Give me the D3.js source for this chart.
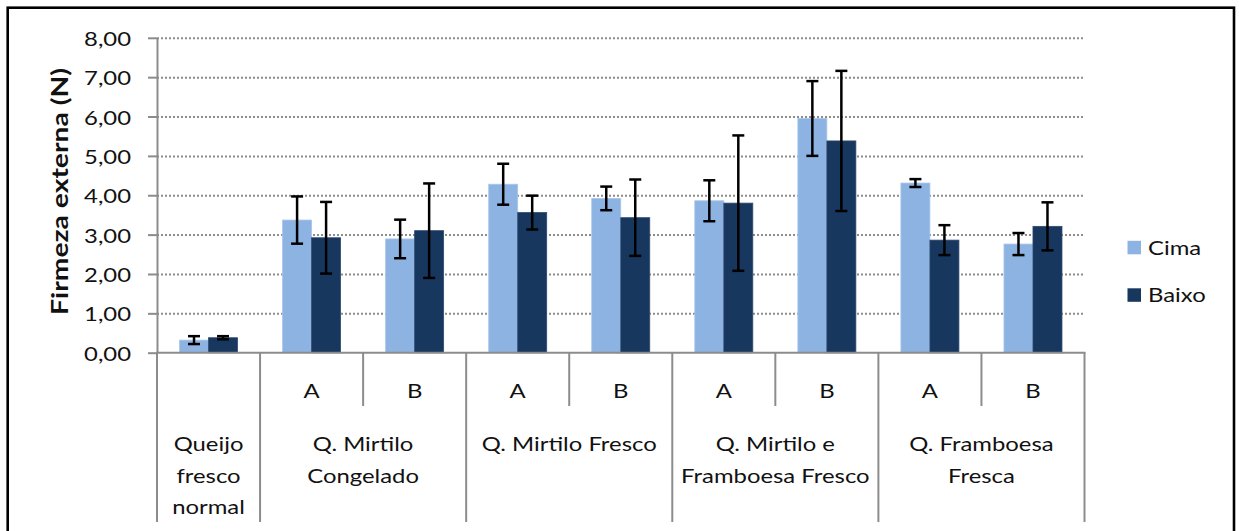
<!DOCTYPE html>
<html>
<head>
<meta charset="utf-8">
<script src="https://cdn.jsdelivr.net/npm/d3@7"></script>
<style>
  body { margin: 0; background: #fff; }
  text { font-family: Lato, "Open Sans", sans-serif; fill: #111; }
</style>
</head>
<body>
<svg id="chart" width="1239" height="531"></svg>
<script>
// categories: second row labels (A / B) and the group names below them
var subLabels = ["", "A", "B", "A", "B", "A", "B", "A", "B"];
var groupNames = [["Queijo", "fresco", "normal"], ["Q. Mirtilo", "Congelado"],
                  ["Q. Mirtilo Fresco"], ["Q. Mirtilo e", "Framboesa Fresco"],
                  ["Q. Framboesa", "Fresca"]];
var groupSizes = [1, 2, 2, 2, 2];

var seriesNames = ["Cima", "Baixo"];
var cima      = [0.32, 3.37, 2.89, 4.28, 3.92, 3.86, 5.95, 4.31, 2.76];
var cimaErr   = [0.10, 0.60, 0.49, 0.52, 0.30, 0.52, 0.95, 0.10, 0.28];
var baixo     = [0.38, 2.92, 3.10, 3.56, 3.43, 3.80, 5.38, 2.86, 3.21];
var baixoErr  = [0.04, 0.91, 1.20, 0.43, 0.97, 1.72, 1.78, 0.38, 0.61];
var yTicks = [0, 1, 2, 3, 4, 5, 6, 7, 8];

var colors = {Cima: "#8db3e2", Baixo: "#17375e"};
var sx = 1.27; // labels are drawn a bit wider than the font

var svg = d3.select("#chart");

// outer frame (bottom edge is cut off in the original)
svg.append("rect")
  .attr("x", 7.7).attr("y", 7.7)
  .attr("width", 1226.3).attr("height", 600)
  .attr("fill", "none").attr("stroke", "#000").attr("stroke-width", 2.6);

var plotL = 157, plotR = 1084.5, plotT = 37.8, plotB = 352.7;

var x = d3.scaleBand().domain(d3.range(cima.length)).range([plotL, plotR]);
var y = d3.scaleLinear().domain([0, 8]).range([plotB, plotT]);
var xs = d3.scaleBand().domain(seriesNames).range([-29, 29]);

function label(g, txt, px, py, anchor) {
  return g.append("text")
    .attr("transform", "translate(" + px + "," + py + ") scale(" + sx + ",1)")
    .attr("text-anchor", anchor || "middle")
    .style("font-size", "18.8px")
    .text(txt);
}

// dotted gridlines
svg.append("g")
  .attr("transform", "translate(" + plotL + ",0)")
  .call(d3.axisLeft(y).tickValues(yTicks.slice(1)).tickSize(-(plotR - plotL - 1)).tickFormat(""))
  .call(function(g) {
    g.select(".domain").remove();
    g.selectAll("line").attr("stroke", "#8c8c8c").attr("stroke-width", 2)
      .attr("stroke-dasharray", "2,2");
  });

// bars
var rows = cima.map(function(v, i) {
  return [{s: "Cima", i: i, v: v, e: cimaErr[i]}, {s: "Baixo", i: i, v: baixo[i], e: baixoErr[i]}];
});
var flat = [].concat.apply([], rows);

svg.append("g").selectAll("rect")
  .data(flat).enter().append("rect")
  .attr("x", function(d) { return x(d.i) + x.bandwidth() / 2 + xs(d.s); })
  .attr("y", function(d) { return y(d.v); })
  .attr("width", xs.bandwidth())
  .attr("height", function(d) { return y(0) - y(d.v); })
  .attr("fill", function(d) { return colors[d.s]; })
  .attr("stroke", function(d) { return d.s == "Cima" ? "#a9c6ea" : "#2d4a70"; })
  .attr("stroke-width", 0.8);

// error bars
var eb = svg.append("g").selectAll("g")
  .data(flat).enter().append("g")
  .attr("stroke", "#000").attr("stroke-width", 2.5);
function cx(d) { return x(d.i) + x.bandwidth() / 2 + xs(d.s) + xs.bandwidth() / 2; }
eb.append("line")
  .attr("x1", cx).attr("x2", cx)
  .attr("y1", function(d) { return y(d.v + d.e); })
  .attr("y2", function(d) { return y(d.v - d.e); });
eb.append("line")
  .attr("x1", function(d) { return cx(d) - 6; }).attr("x2", function(d) { return cx(d) + 6; })
  .attr("y1", function(d) { return y(d.v + d.e); }).attr("y2", function(d) { return y(d.v + d.e); });
eb.append("line")
  .attr("x1", function(d) { return cx(d) - 6; }).attr("x2", function(d) { return cx(d) + 6; })
  .attr("y1", function(d) { return y(d.v - d.e); }).attr("y2", function(d) { return y(d.v - d.e); });

// y axis
svg.append("g")
  .attr("transform", "translate(" + plotL + ",0)")
  .call(d3.axisLeft(y).tickValues(yTicks).tickSize(9).tickSizeOuter(0)
    .tickFormat(function(d) { return d.toFixed(2).replace(".", ","); }))
  .call(function(g) {
    g.select(".domain").attr("stroke", "#8c8c8c").attr("stroke-width", 2);
    g.selectAll("line").attr("stroke", "#8c8c8c").attr("stroke-width", 2);
    g.selectAll("text")
      .attr("x", null).attr("dy", null)
      .attr("transform", "translate(-26,7.5) scale(" + sx + ",1)")
      .style("font-size", "18.8px").style("font-family", "Lato, sans-serif")
      .attr("fill", "#111");
  });

// x axis: baseline plus multi-level separators
var xa = svg.append("g").attr("stroke", "#8c8c8c").attr("stroke-width", 2);
xa.append("line").attr("x1", plotL - 1).attr("x2", plotR + 1).attr("y1", plotB).attr("y2", plotB);

var bounds = [0];
groupSizes.forEach(function(n, k) { bounds.push(bounds[k] + n); });
bounds.forEach(function(b) {
  var px = b < cima.length ? x(b) : plotR;
  xa.append("line").attr("x1", px).attr("x2", px).attr("y1", plotB).attr("y2", 522);
});
d3.range(cima.length).forEach(function(i) {
  if (bounds.indexOf(i) < 0) {
    xa.append("line").attr("x1", x(i)).attr("x2", x(i)).attr("y1", plotB).attr("y2", 406);
  }
});

var lab = svg.append("g");
subLabels.forEach(function(t, i) {
  if (t) label(lab, t, x(i) + x.bandwidth() / 2, 397.5);
});
groupNames.forEach(function(lines, k) {
  var x0 = x(bounds[k]);
  var x1 = bounds[k + 1] < cima.length ? x(bounds[k + 1]) : plotR;
  lines.forEach(function(t, j) {
    label(lab, t, (x0 + x1) / 2, 451 + j * 31.6);
  });
});

// y title
svg.append("text")
  .attr("transform", "translate(68,191.5) rotate(-90)")
  .attr("text-anchor", "middle")
  .attr("textLength", 247).attr("lengthAdjust", "spacingAndGlyphs")
  .style("font-size", "22px").style("font-weight", "bold")
  .text("Firmeza  externa  (N)");

// legend
var lg = svg.append("g").selectAll("g")
  .data(seriesNames).enter().append("g");
lg.append("rect")
  .attr("x", 1127.5).attr("y", function(d, i) { return 240.8 + i * 47.5; })
  .attr("width", 13.5).attr("height", 13.5)
  .attr("fill", function(d) { return colors[d]; });
lg.each(function(d, i) {
  label(d3.select(this), d, 1148, 255 + i * 47.3, "start");
});
</script>
</body>
</html>
